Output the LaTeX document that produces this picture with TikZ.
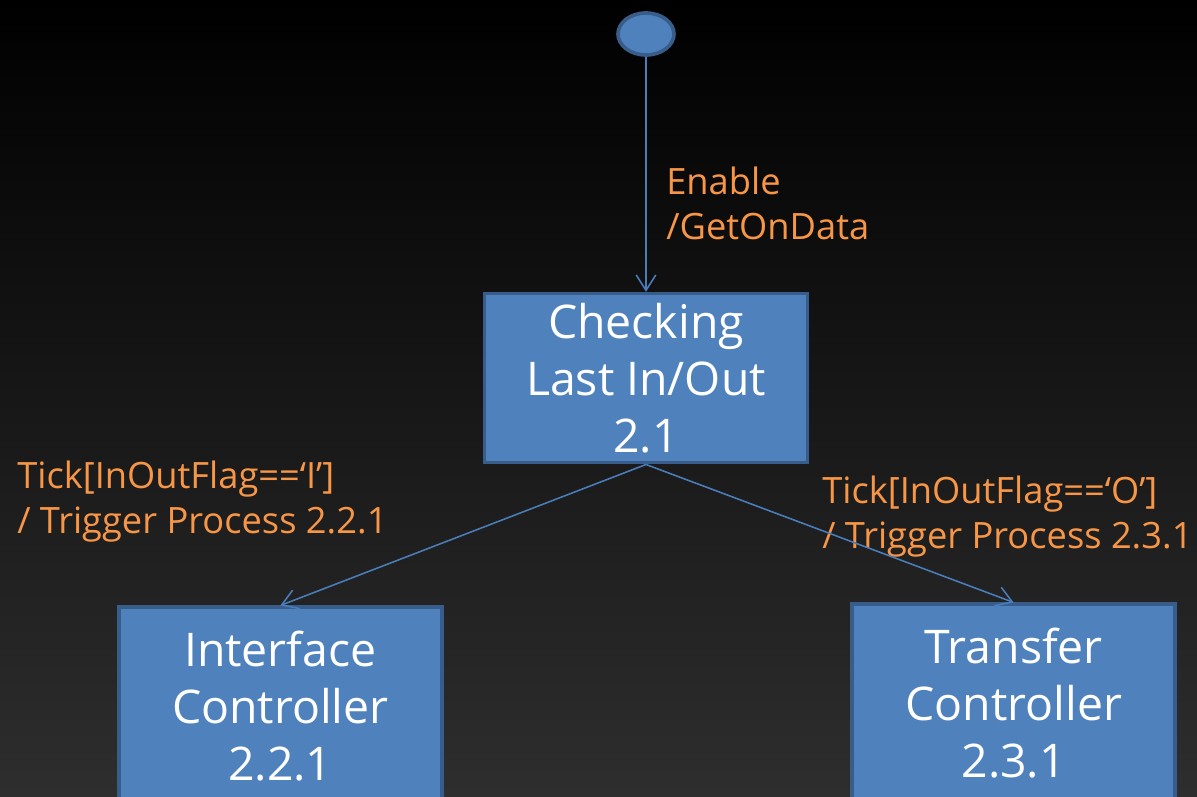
\documentclass[tikz,border=0pt]{standalone}
\usepackage{fontspec}
\setmainfont{Open Sans}
\usepackage{tikz}
\usetikzlibrary{arrows.meta, positioning, shapes.geometric}
\usepackage{xcolor}
\definecolor{boxblue}{RGB}{79,129,189}
\definecolor{boxedge}{RGB}{56,93,138}
\definecolor{lineblue}{RGB}{74,126,187}
\definecolor{labelorange}{RGB}{247,150,70}
\definecolor{bgbottom}{RGB}{46,46,46}

\begin{document}
\begin{tikzpicture}[
    state/.style={draw=boxedge, line width=2.6pt, fill=boxblue, text=white, align=center,
      minimum width=8.075cm, inner sep=0pt,
      font=\fontsize{33}{40.4}\selectfont},
    arrow/.style={-{Straight Barb[length=11pt, width=14pt]}, draw=lineblue, line width=1.1pt},
    label/.style={text=labelorange, align=left, inner sep=0pt, anchor=west,
      font=\fontsize{25.8}{32}\selectfont}
    ]

    % Background
    \useasboundingbox (0,0) rectangle (29.925,-19.925);
    \shade[top color=black, bottom color=bgbottom] (0,0) rectangle (29.925,-19.925);

    % Nodes
    \node (init)     [ellipse, draw=boxedge, line width=2.6pt, fill=boxblue,
                      minimum width=1.4cm, minimum height=1.05cm] at (16.15,-0.85) {};
    \node (check)    [state, minimum height=4.225cm, below=5.875cm of init] {Checking\\Last In/Out\\2.1};
    \node (iface)    [state, minimum height=4.95cm, below left=3.525cm and 0.975cm of check]
                     {Interface\\Controller\\2.2.1};
    \node (transfer) [state, minimum height=4.95cm, below right=3.45cm and 1.025cm of check]
                     {Transfer\\Controller\\2.3.1};

    % Labels
    \node (enable)   [label] at (16.65,-5.09) {Enable\\/GetOnData};
    \node (tick_i)   [label] at (0.425,-12.55) {Tick[InOutFlag==‘I’]\\/ Trigger Process 2.2.1};
    \node (tick_o)   [label] at (20.55,-12.925) {Tick[InOutFlag==‘O’]\\/ Trigger Process 2.3.1};

    % Arrows
    \draw[arrow] (init) -- (check);
    \draw[arrow] (check.south) -- (iface.north);
    \draw[arrow] (check.south) -- (transfer.north);
  \end{tikzpicture}
\end{document}
